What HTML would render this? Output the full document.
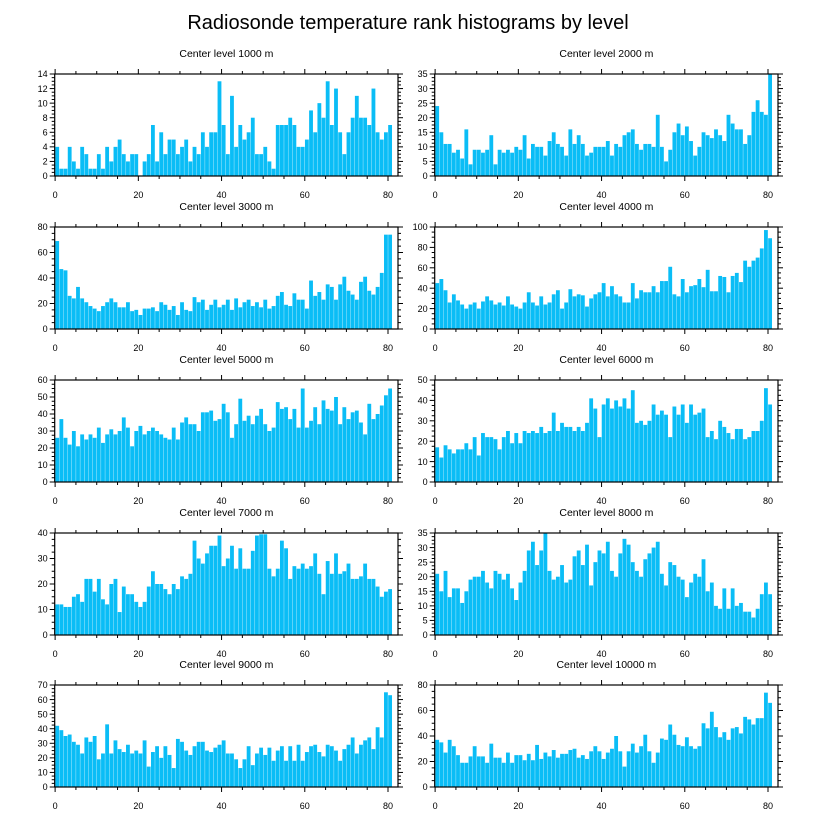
<!DOCTYPE html>
<html><head><meta charset="utf-8">
<style>
html,body{margin:0;padding:0;background:#fff;}
svg{display:block;font-family:"Liberation Sans",sans-serif;}
</style></head>
<body>
<svg id="chart" width="816" height="824" viewBox="0 0 816 824" xmlns="http://www.w3.org/2000/svg">
<text x="408" y="29" text-anchor="middle" font-size="20" fill="#000">Radiosonde temperature rank histograms by level</text>
</svg>
<script>
const levels = ["1000","2000","3000","4000","5000","6000","7000","8000","9000","10000"];
const yMaxes = [14,35,80,100,60,50,40,35,70,80];
const yStepsMajor = [2,5,20,20,10,10,10,5,10,20];
const xTickLabels = [0,20,40,60,80];
const v1000 = [4,1,1,4,2,1,4,3,1,1,3,1,4,2,4,5,3,2,3,3,0,2,3,7,2,6,3,5,5,3,4,5,2,4,3,6,4,6,6,13,7,3,11,4,7,5,6,8,3,3,4,2,1,7,7,7,8,7,4,4,5,9,6,10,8,13,7,12,6,3,6,8,11,8,8,7,12,6,5,6,7];
const v2000 = [24,15,11,11,8,9,6,16,4,9,9,8,9,14,4,9,8,9,8,10,9,14,6,11,10,10,7,12,15,11,10,7,16,11,14,11,7,8,10,10,10,12,7,11,10,14,15,16,11,9,11,11,10,21,10,5,9,15,18,14,17,12,7,10,15,14,13,16,14,12,21,18,16,16,11,14,22,26,22,21,35];
const v3000 = [69,47,46,26,24,33,24,21,18,16,14,18,21,24,21,17,17,21,14,15,11,16,16,17,14,21,19,15,18,11,21,15,14,25,21,23,15,19,23,17,19,23,15,24,17,21,23,18,21,17,23,16,18,26,29,19,18,28,23,23,16,38,26,29,23,35,33,23,35,41,30,27,23,37,41,30,27,33,44,74,74];
const v4000 = [45,49,38,26,34,28,24,20,24,26,20,27,32,28,24,26,23,32,24,22,20,26,36,26,23,32,24,26,34,38,20,26,39,32,34,33,22,30,34,36,45,32,42,34,32,26,26,45,30,38,36,36,42,36,47,47,61,34,32,49,36,42,43,49,41,58,37,37,52,51,36,52,55,46,67,61,67,70,79,97,89];
const v5000 = [26,37,26,22,30,21,28,25,28,26,32,23,28,31,28,30,38,32,21,30,33,28,30,32,30,28,26,25,32,25,35,38,34,34,30,41,41,42,36,37,46,41,26,34,49,36,39,34,39,43,34,30,32,47,43,44,37,43,32,55,32,36,44,34,48,43,42,50,34,44,37,41,42,35,28,46,37,40,45,51,55];
const v6000 = [17,12,18,16,14,16,16,19,16,22,13,24,22,22,21,16,22,25,19,24,19,25,24,25,24,27,24,25,34,25,29,27,27,25,27,25,29,41,36,22,38,41,36,40,37,41,36,45,29,30,28,30,38,33,35,33,22,37,33,38,29,38,33,34,36,22,25,21,30,27,24,21,26,26,21,22,25,25,30,46,38];
const v7000 = [12,12,11,11,15,16,13,22,22,17,22,14,12,20,22,9,19,16,16,13,11,13,19,25,20,20,18,16,20,18,23,22,24,37,30,28,32,35,35,39,27,30,35,26,34,26,26,33,39,39.5,39.5,26,23,26,37,34,22,27,26,28,26,27,32,24,16,29,24,32,24,25,28,22,22,23,28,22,22,19,15,17,18];
const v8000 = [21,15,22,13,16,16,11,15,19,20,20,22,18,16,22,21,19,21,16,12,18,22,29,32,24,29,35,22,19,20,24,18,19,27,29,24,31,17,25,29,28,32,22,20,28,33,31,25,22,20,26,28,30,32,21,17,25,24,20,19,13,18,21,20,26,15,18,10,9,16,9,16,10,11,8,8,6,9,14,18,14];
const v9000 = [42,39,35,36,31,29,23,34,31,35,19,23,43,23,32,26,24,29,23,25,23,32,14,24,28,20,28,22,13,33,31,25,22,28,31,31,25,24,27,29,32,23,23,19,13,19,28,15,23,27,22,27,18,25,28,18,28,18,29,18,24,28,29,24,21,29,28,25,18,26,29,34,23,29,32,34,26,41,34,65,63];
const v10000 = [37,35,27,37,32,25,19,19,24,32,24,24,19,34,23,23,19,27,19,25,25,21,26,21,33,22,27,24,29,23,26,26,29,30,23,25,22,28,32,28,22,27,30,40,28,16,28,34,27,32,41,28,19,27,38,37,49,41,33,32,39,32,30,32,50,46,59,47,39,43,37,46,47,42,55,53,49,54,54,74,66];
const allValues = [v1000,v2000,v3000,v4000,v5000,v6000,v7000,v8000,v9000,v10000];

const NS = "http://www.w3.org/2000/svg";
const svg = document.getElementById("chart");
function mk(tag, attrs, parent){
  const e = document.createElementNS(NS, tag);
  for (const k in attrs) e.setAttribute(k, attrs[k]);
  (parent||svg).appendChild(e);
  return e;
}
const XMIN = -0.1, XMAX = 82.4;
const colLeft = [54.7, 434.7];
const panelW = 343.3;
const rowTop = [74, 227, 380, 533, 685];
const panelH = 102;

for (let p = 0; p < 10; p++) {
  const col = p % 2, row = Math.floor(p / 2);
  const L = colLeft[col], T = rowTop[row], W = panelW, H = panelH;
  const ymax = yMaxes[p], step = yStepsMajor[p];
  const xs = v => L + (v - XMIN) / (XMAX - XMIN) * W;
  const ys = v => T + H - v / ymax * H;
  const g = mk("g", {});
  
  

  const st = mk("text", {x: L + W/2, y: T - 17, "text-anchor": "middle", "font-size": "10.5", fill: "#000"}, g);
  st.textContent = "Center level " + levels[p] + " m";
  
  

  const vals = allValues[p];
  for (let i = 0; i < vals.length; i++) {
    const x0 = xs(i + 0.04), x1 = xs(i + 0.96);
    const r = mk("rect", {x: x0, y: ys(vals[i]), width: x1 - x0, height: ys(0) - ys(vals[i]), fill: "#0abdf6"}, g);
    
    
  }

  const frame = mk("rect", {x: L, y: T, width: W, height: H, fill: "none", stroke: "#000", "stroke-width": "1.2"}, g);
  
  

  for (let v = 0; v <= 80; v += 5) {
    const major = v % 20 === 0;
    const len = major ? 5 : 3;
    const x = xs(v);
    mk("line", {x1: x, x2: x, y1: T + H, y2: T + H + len, stroke: "#000", "stroke-width": "1"}, g);
    mk("line", {x1: x, x2: x, y1: T, y2: T - len, stroke: "#000", "stroke-width": "1"}, g);
  }
  for (const v of xTickLabels) {
    const t = mk("text", {x: xs(v), y: T + H + 22, "text-anchor": "middle", "font-size": "9", fill: "#000"}, g);
    t.textContent = v;
    
    
  }
  const minor = step / 4;
  for (let v = 0; v <= ymax + 1e-9; v += minor) {
    const isMajor = Math.abs(v / step - Math.round(v / step)) < 1e-6;
    const len = isMajor ? 5 : 3;
    const y = ys(v);
    mk("line", {x1: L, x2: L - len, y1: y, y2: y, stroke: "#000", "stroke-width": "1"}, g);
    mk("line", {x1: L + W, x2: L + W + len, y1: y, y2: y, stroke: "#000", "stroke-width": "1"}, g);
    if (isMajor) {
      const t = mk("text", {x: L - 7, y: y + 3.2, "text-anchor": "end", "font-size": "9", fill: "#000"}, g);
      t.textContent = Math.round(v);
      
      
    }
  }
}
</script>
</body></html>
